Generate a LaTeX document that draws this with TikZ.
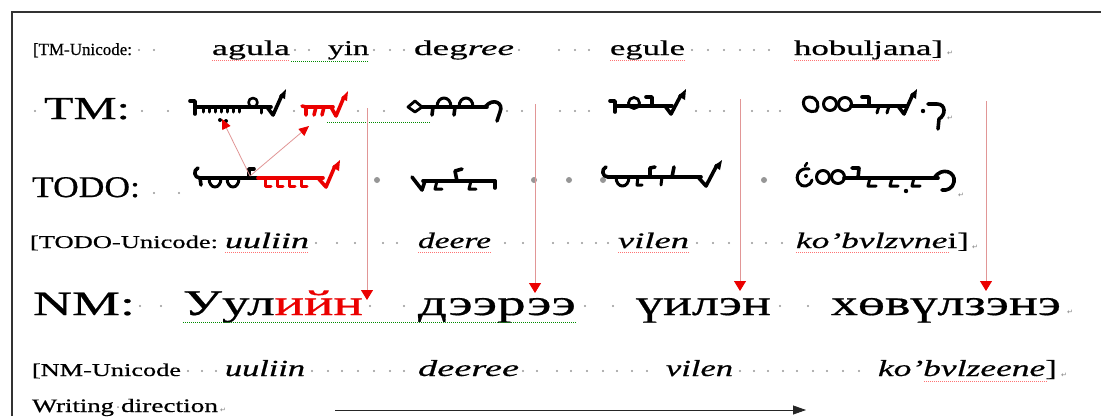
\documentclass[tikz,border=0pt]{standalone}
\usepackage{graphicx}
\usepackage{fontspec}
\setmainfont{Liberation Serif}[FakeBold=0.5]
\newfontfamily\symfont{DejaVu Sans}
\usetikzlibrary{arrows.meta}
\newcommand\fitw[3]{\resizebox{#1pt}{\height}{\fontsize{#2pt}{#2pt}\selectfont #3}}
\newcommand\pilc{{\symfont\fontsize{7pt}{7pt}\selectfont\color{gray}↵}}
\definecolor{dotc}{RGB}{150,150,150}
\definecolor{pinkline}{RGB}{225,150,150}
\definecolor{mgred}{RGB}{235,0,0}
\tikzset{
  txt/.style={anchor=base west, inner sep=0pt, outer sep=0pt},
  mg/.style={draw=black, line width=3.6pt, line cap=round, line join=round},
  mgr/.style={draw=mgred, line width=3.6pt, line cap=round, line join=round},
  mgt/.style={line width=3pt},
  spellr/.style={draw=red!55, line width=0.6pt, dash pattern=on 1pt off 1pt},
  spellg/.style={draw=green!55!black, line width=0.6pt, dash pattern=on 1pt off 1pt},
  downarrow/.style={draw=pinkline, line width=0.9pt, -{Triangle[length=10pt,width=12pt,color=mgred]}},
  smallarrow/.style={draw=pinkline, line width=0.8pt, -{Triangle[length=10pt,width=9pt,color=mgred]}},
  dirarrow/.style={draw=black!85, line width=0.8pt, -{Triangle[length=13pt,width=9pt]}},
}
\begin{document}
\begin{tikzpicture}[x=1pt,y=-1pt]
\useasboundingbox (0,0) rectangle (1101,416);
\fill[white] (0,0) rectangle (1101,416);
% frame
\draw[line width=1.6pt, black!80] (12,416) -- (12,12) -- (1101,12);

% ---------- Row 1 ----------
\node[txt] (r1lab) at (33,55) {\fitw{99}{17}{[TM-Unicode:}};
\node[txt] (r1a) at (212,55) {\fitw{78}{21}{agula}};
\node[txt] (r1b) at (328,55) {\fitw{41}{21}{yin}};
\node[txt] (r1c) at (414,55) {\fitw{100}{21}{deg\textit{ree}}};
\node[txt] (r1d) at (610,55) {\fitw{75}{21}{egule}};
\node[txt] (r1e) at (794,55) {\fitw{149}{21}{hobuljana]}};
\node[txt] (r1p) at (947,55) {\pilc};
\foreach \x in {139,154,295,309,374,390,404,519,559,575,589,692,708,724,740,754,769}
  \fill[dotc] (\x,50) circle (1.1pt);
\draw[spellr] (212,60) -- (290,60);
\draw[spellg] (291,61) -- (369,61);
\draw[spellr] (610,60) -- (685,60);
\draw[spellr] (794,60) -- (940,60);

% ---------- Row 2 (TM) ----------
\node[txt] (tm) at (44,119) {\fitw{86}{32}{TM:}};
\foreach \x in {35,142,168,294,358,384,507,522,560,575,589,696,710,724,752,768,780}
  \fill[dotc] (\x,111) circle (1.2pt);
\node[txt] (r2p) at (947,120) {\pilc};
% TM word 1
\begin{scope}[shift={(191,107)}]
  \draw[mg] (-1,-6) -- (4,-6) -- (4,7);
  \draw[mg] (4,0) -- (80,0);
  \foreach \t in {12,18,24,30,36,42,48} \draw[mg,mgt] (\t,0) -- (\t,5);
  \fill (29,13) circle (2pt); \fill (35,14) circle (2pt);
  \draw[mg,line width=2.6pt] (62,-4.5) circle (4.5pt);
  \draw[mg,mgt] (70,0) -- (70,6);
  \draw[mg] (76,0) -- (82,8) -- (91,-12);
  \fill (88,-11) -- (95,-18) -- (94,-8) -- cycle;
\end{scope}
% TM red glyph
\begin{scope}[shift={(302,107)}]
  \draw[mgr] (0,-1) -- (4,0) -- (4,8);
  \draw[mgr] (4,0) -- (31,0);
  \draw[mgr] (14,0) -- (12,8);
  \draw[mgr] (22,0) -- (20,8);
  \draw[mgr] (29,0) -- (34,9) -- (42,-10);
  \fill[mgred] (39,-9) -- (46,-16) -- (45,-6) -- cycle;
\end{scope}
% TM word 3
\begin{scope}[shift={(407,107)}]
  \draw[mg,line width=2.8pt] (1,0) -- (8,-6) -- (15,0) -- (8,5) -- cycle;
  \draw[mg] (15,0) -- (80,0);
  \draw[mg,line width=3pt] (30,0) .. controls (30,-12) and (44,-12) .. (44,0);
  \draw[mg,line width=3pt] (52,0) .. controls (52,-12) and (66,-12) .. (66,0);
  \draw[mg] (26,0) -- (25,8);
  \draw[mg] (48,0) -- (47,8);
  \draw[mg] (78,0) .. controls (86,-10) and (97,-4) .. (93,5) -- (90,14);
\end{scope}
% TM word 4
\begin{scope}[shift={(610,106)}]
  \draw[mg] (0,-5) -- (5,-5) -- (5,6);
  \draw[mg] (5,0) -- (62,0);
  \draw[mg,line width=2.8pt] (24,-3) circle (5.5pt);
  \draw[mg] (36,-9) -- (42,-9) -- (42,0);
  \draw[mg] (55,0) -- (61,8) -- (71,-11);
  \fill (68,-10) -- (76,-17) -- (75,-6) -- cycle;
\end{scope}
% TM word 5
\begin{scope}[shift={(799,106)}]
  \draw[mg,line width=3pt] (17,5) .. controls (4,9) and (0,-9) .. (10,-9) .. controls (19,-9) and (21,0) .. (17,5);
  \draw[mg,line width=3pt] (31,-2) circle (6.5pt);
  \draw[mg,line width=3pt] (46,-2) circle (6.5pt);
  \draw[mg] (52,0) -- (108,0);
  \draw[mg] (63,-9) -- (70,-9) -- (70,0);
  \draw[mg,mgt] (80,0) -- (78,7);
  \draw[mg,mgt] (90,0) -- (88,7);
  \draw[mg] (99,0) -- (105,8) -- (114,-12);
  \fill (111,-11) -- (118,-17) -- (117,-7) -- cycle;
  \fill (124,5) circle (2.2pt);
  \draw[mg] (129,-2) -- (138,-2) .. controls (147,-2) and (147,9) .. (140,13) -- (139,23);
\end{scope}
\draw[spellg] (327,122) -- (430,122);

% ---------- Row 3 (TODO) ----------
\node[txt] (todo) at (32,197) {\fitw{108}{30}{TODO:}};
\foreach \x in {154,179} \fill[dotc] (\x,193) circle (1.1pt);
\foreach \x in {377,534,569,603,764} \fill[dotc] (\x,180) circle (3pt);
\node[txt] (r3p) at (958,197) {\pilc};
% TODO word 1
\begin{scope}[shift={(195,178)}]
  \draw[mg] (3,-10) .. controls (-2,-8) and (-1,0) .. (5,0);
  \draw[mg] (5,0) -- (6,7);
  \draw[mg] (5,0) -- (63,0);
  \draw[mg,line width=3pt] (14,0) .. controls (14,12) and (26,12) .. (26,0);
  \draw[mg,line width=3pt] (32,0) .. controls (32,12) and (44,12) .. (44,0);
  \draw[mg] (54,0) -- (54,-9) -- (59,-9);
  \draw[mgr] (63,0) -- (128,0);
  \foreach \t in {70,82,94,106} \draw[mgr,mgt] (\t,0) -- (\t,8) -- (\t+6,8);
  \draw[mgr] (123,0) -- (131,9) -- (140,-12);
  \fill[mgred] (137,-11) -- (145,-18) -- (144,-7) -- cycle;
\end{scope}
% TODO word 2
\begin{scope}[shift={(411,181)}]
  \draw[mg] (1,-4) -- (11,9) -- (14,0);
  \draw[mg] (12,0) -- (84,0);
  \draw[mg,mgt] (26,0) -- (24,8) -- (31,8);
  \draw[mg] (46,0) -- (44,-10) -- (51,-12);
  \draw[mg,mgt] (60,0) -- (58,8) -- (65,8);
  \draw[mg] (84,0) -- (84,7);
\end{scope}
% TODO word 3
\begin{scope}[shift={(603,177)}]
  \draw[mg] (3,-10) .. controls (-2,-8) and (-1,0) .. (5,0);
  \draw[mg] (5,0) -- (98,0);
  \draw[mg,line width=3pt] (13,0) .. controls (13,12) and (26,12) .. (26,0);
  \draw[mg,mgt] (35,0) -- (34,8) -- (39,8);
  \draw[mg] (47,0) -- (47,-9) -- (52,-10);
  \draw[mg,mgt] (59,0) -- (58,8);
  \draw[mg] (69,0) -- (71,-10);
  \draw[mg] (95,0) -- (103,9) -- (114,-12);
  \fill (111,-11) -- (119,-17) -- (117,-7) -- cycle;
\end{scope}
% TODO word 4
\begin{scope}[shift={(796,178)}]
  \draw[mg,line width=3pt] (13,-9) .. controls (4,-11) and (-2,-2) .. (3,5) .. controls (6,10) and (14,9) .. (16,2);
  \draw[mg,line width=2.6pt] (9,-12) -- (11,-15);
  \fill (10,-2) circle (2pt);
  \draw[mg,line width=3pt] (27,-1) circle (6.5pt);
  \draw[mg,line width=3pt] (42,-1) circle (6.5pt);
  \draw[mg] (48,0) -- (142,0);
  \draw[mg] (56,-10) -- (63,-10) -- (62,0);
  \draw[mg,mgt] (74,0) -- (72,8) -- (80,8);
  \draw[mg,mgt] (96,0) -- (94,8) -- (102,8);
  \draw[mg,mgt] (118,0) -- (116,8) -- (124,8);
  \fill (110,13) circle (2.2pt);
  \draw[mg] (138,0) .. controls (146,-12) and (160,-6) .. (158,4) .. controls (157,10) and (151,13) .. (146,12);
\end{scope}

% ---------- Row 4 ----------
\node[txt] (r4lab) at (30,248) {\fitw{188}{18}{[TODO-Unicode:}};
\node[txt] (r4a) at (225,248) {\fitw{84}{22}{\textit{uuliin}}};
\node[txt] (r4b) at (418,248) {\fitw{73}{22}{\textit{deere}}};
\node[txt] (r4c) at (618,248) {\fitw{71}{22}{\textit{vilen}}};
\node[txt] (r4d) at (796,248) {\fitw{173}{22}{\textit{ko’bvlzvne}i]}};
\node[txt] (r4p) at (972,249) {\pilc};
\foreach \x in {316,337,355,383,397,505,523,553,568,582,596,608,697,713,729,752,766,782}
  \fill[dotc] (\x,243) circle (1.1pt);
\draw[spellr] (225,252) -- (309,252);
\draw[spellr] (418,252) -- (491,252);
\draw[spellr] (618,252) -- (689,252);
\draw[spellr] (796,252) -- (950,252);

% ---------- Row 5 (NM) ----------
\node[txt] (nm) at (33,315) {\fitw{102}{34}{NM:}};
\node[txt] (nma) at (183,315) {\fitw{180}{36}{Уул\textcolor{mgred}{ийн}}};
\node[txt] (nmb) at (418,315) {\fitw{158}{36}{дээрээ}};
\node[txt] (nmc) at (636,315) {\fitw{135}{36}{үилэн}};
\node[txt] (nmd) at (831,315) {\fitw{230}{36}{хөвүлзэнэ}};
\node[txt] (r5p) at (1067,314) {\pilc};
\foreach \x in {140,161,370,404,585,613,780,808}
  \fill[dotc] (\x,306) circle (1.2pt);
\draw[spellg] (183,322) -- (576,322);

% ---------- Row 6 ----------
\node[txt] (r6lab) at (32,376) {\fitw{149}{18}{[NM-Unicode}};
\node[txt] (r6a) at (225,376) {\fitw{80}{23}{\textit{uuliin}}};
\node[txt] (r6b) at (418,376) {\fitw{101}{23}{\textit{deeree}}};
\node[txt] (r6c) at (666,376) {\fitw{67}{23}{\textit{vilen}}};
\node[txt] (r6d) at (878,376) {\fitw{179}{23}{\textit{ko’bvlzeene}]}};
\node[txt] (r6p) at (1061,377) {\pilc};
\foreach \x in {188,202,216,312,328,342,358,374,390,404,523,537,557,571,587,603,617,632,647,740,754,768,783,797,813,827,843,859}
  \fill[dotc] (\x,371) circle (1.1pt);
\draw[spellr] (924,381) -- (1047,381);

% ---------- Row 7 ----------
\node[txt] (wr1) at (32,412) {\fitw{82}{19}{Writing}};
\node[txt] (wr2) at (121,412) {\fitw{97}{19}{direction}};
\fill[dotc] (118,407) circle (1pt);
\node[txt] (r7p) at (220,412) {\pilc};
\coordinate (dirS) at (335,410);
\coordinate (dirE) at (806,410);
\draw[dirarrow] (dirS) -- (dirE);

% ---------- connectors ----------
\coordinate (v1s) at (367,108); \coordinate (v1e) at (367,300);
\coordinate (v2s) at (535,104); \coordinate (v2e) at (535,293);
\coordinate (v3s) at (740,99);  \coordinate (v3e) at (740,291);
\coordinate (v4s) at (986,101); \coordinate (v4e) at (986,291);
\draw[downarrow] (v1s) -- (v1e);
\draw[downarrow] (v2s) -- (v2e);
\draw[downarrow] (v3s) -- (v3e);
\draw[downarrow] (v4s) -- (v4e);
\coordinate (src) at (250,176);
\coordinate (tg1) at (222,119);
\coordinate (tg2) at (309,126);
\draw[smallarrow] (src) -- (tg1);
\draw[smallarrow] (src) -- (tg2);
\end{tikzpicture}
\end{document}
